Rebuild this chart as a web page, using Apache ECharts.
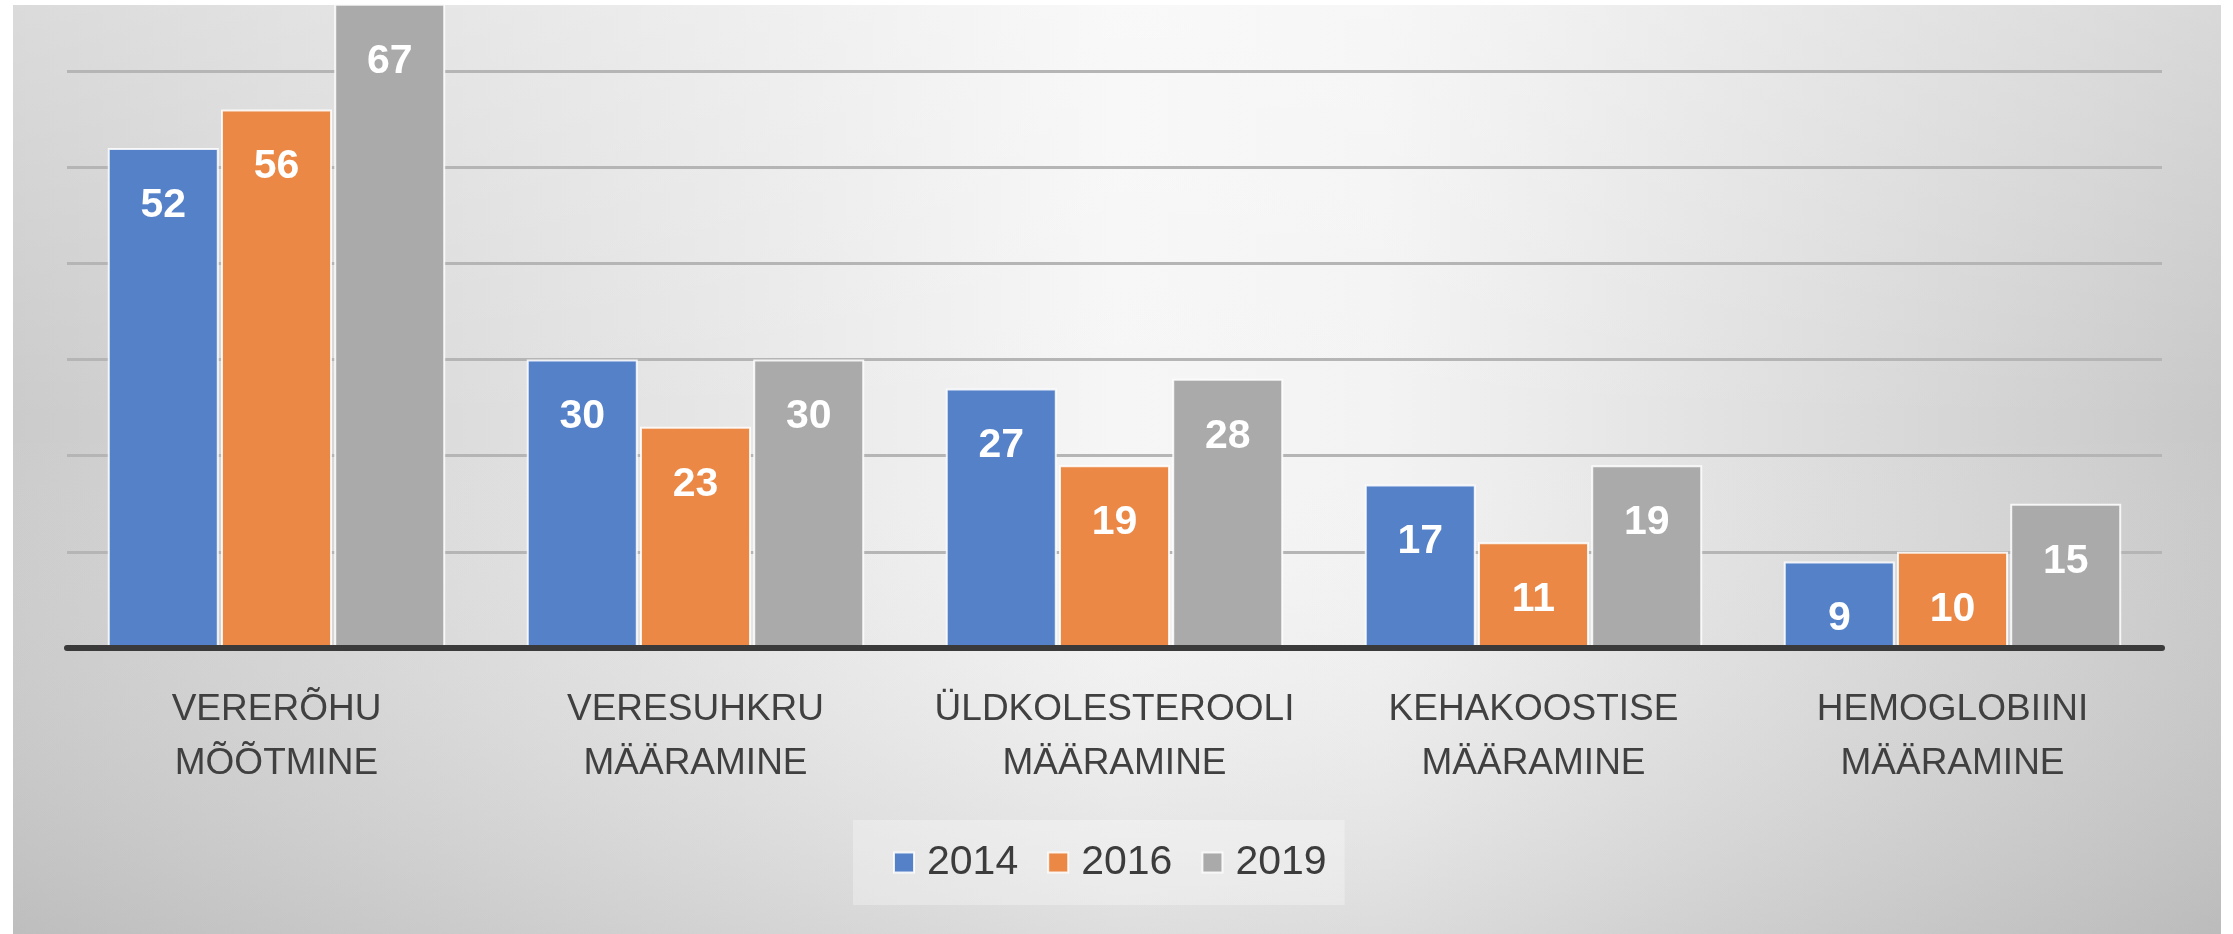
<!DOCTYPE html>
<html>
<head>
<meta charset="utf-8">
<script src="https://cdn.jsdelivr.net/npm/echarts@6/dist/echarts.min.js"></script>
<style>
  html, body { margin: 0; padding: 0; background: #fff; }
  #chart { width: 2233px; height: 934px; }
</style>
</head>
<body>
<div id="chart"></div>
<script>
// kategooriad (x-telg)
const categories = [
  'VERERÕHU\nMÕÕTMINE',
  'VERESUHKRU\nMÄÄRAMINE',
  'ÜLDKOLESTEROOLI\nMÄÄRAMINE',
  'KEHAKOOSTISE\nMÄÄRAMINE',
  'HEMOGLOBIINI\nMÄÄRAMINE'
]
// aastad ja väärtused
const years = ['2014', '2016', '2019']
const values2014 = [52, 30, 27, 17, 9]
const values2016 = [56, 23, 19, 11, 10]
const values2019 = [67, 30, 28, 19, 15]

const colors = ['#5581c9', '#eb8846', '#aaaaaa']
const font = "'Liberation Sans', Arial, sans-serif"

const chart = echarts.init(document.getElementById('chart'))

function barSeries(name, data, color) {
  return {
    name: name,
    type: 'bar',
    data: data,
    barWidth: 111,
    barGap: '2%',
    itemStyle: {
      color: color,
      borderColor: 'rgba(255,255,255,0.85)',
      borderWidth: 2
    },
    label: {
      show: true,
      position: 'insideTop',
      distance: 37,
      color: '#fff',
      fontFamily: font,
      fontWeight: 'bold',
      fontSize: 41
    }
  }
}

const option = {
  animation: false,
  // taust: hall üleminek servades
  graphic: {
    elements: [
      {
        type: 'rect',
        z: -100,
        shape: { x: 13, y: 5, width: 2208, height: 929 },
        style: {
          fill: new echarts.graphic.LinearGradient(0, 0, 1, 0, [
            { offset: 0, color: '#cbcbcb' },
            { offset: 0.5, color: '#f6f6f6' },
            { offset: 0.62, color: '#f3f3f3' },
            { offset: 1, color: '#c8c8c8' }
          ])
        }
      },
      {
        type: 'rect',
        z: -99,
        shape: { x: 13, y: 5, width: 2208, height: 929 },
        style: {
          fill: new echarts.graphic.LinearGradient(0, 0, 0, 1, [
            { offset: 0, color: 'rgba(255,255,255,0.3)' },
            { offset: 0.45, color: 'rgba(255,255,255,0)' },
            { offset: 1, color: 'rgba(150,150,150,0.25)' }
          ])
        }
      }
    ]
  },
  legend: {
    data: years,
    left: 853,
    top: 820,
    padding: [22, 18, 22, 40],
    backgroundColor: 'rgba(255,255,255,0.3)',
    icon: 'rect',
    itemWidth: 20,
    itemHeight: 20,
    itemGap: 29,
    textStyle: {
      fontFamily: font,
      fontSize: 41,
      color: '#3c3c3c',
      padding: [0, 0, 0, 8]
    }
  },
  // y-skaala ülemine ots jääb pildist välja (70 oleks kõrgemal)
  grid: {
    left: 67,
    right: 71,
    top: 0,
    bottom: 286
  },
  xAxis: {
    type: 'category',
    data: categories,
    z: 3,
    axisLine: { lineStyle: { color: '#3a3a3a', width: 6 } },
    axisTick: { show: false },
    axisLabel: {
      interval: 0,
      margin: 35,
      color: '#404040',
      fontFamily: font,
      fontSize: 37,
      lineHeight: 54
    }
  },
  yAxis: {
    type: 'value',
    min: 0,
    max: 67.4,
    interval: 10,
    axisLine: { show: false },
    axisTick: { show: false },
    axisLabel: { show: false },
    splitLine: {
      showMaxLine: false,
      lineStyle: { color: '#b5b5b5', width: 3 }
    }
  },
  series: [
    barSeries(years[0], values2014, colors[0]),
    barSeries(years[1], values2016, colors[1]),
    barSeries(years[2], values2019, colors[2])
  ]
}

chart.setOption(option)
</script>
</body>
</html>
